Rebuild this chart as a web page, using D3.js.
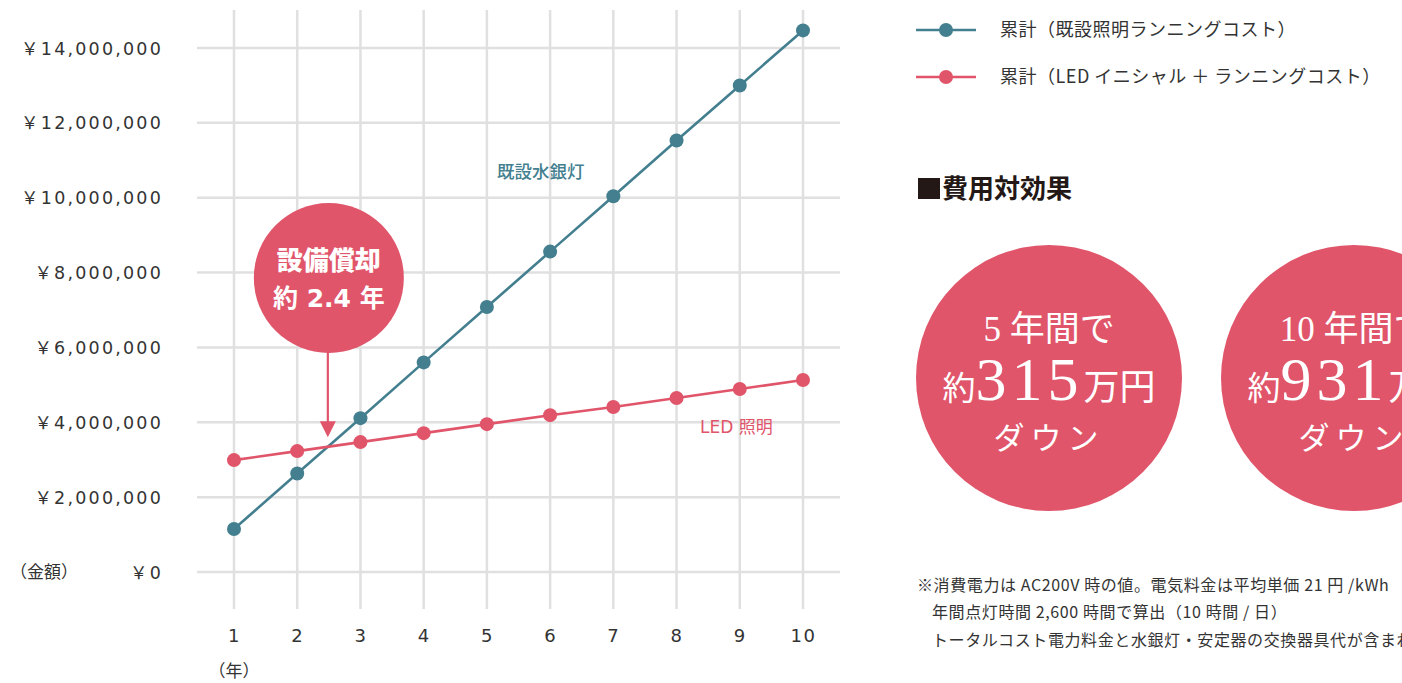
<!DOCTYPE html>
<html><head><meta charset="utf-8">
<script src="https://cdn.jsdelivr.net/npm/d3@7"></script>
<style>body{margin:0;background:#fff;} svg{display:block;}</style>
</head><body>
<svg id="c" width="1402" height="683"></svg>
<script>
const years = [1,2,3,4,5,6,7,8,9,10];
const existingCost = [1150000,2630000,4110000,5600000,7080000,8560000,10040000,11530000,13000000,14470000];
const ledCost = [2990000,3230000,3470000,3710000,3950000,4190000,4410000,4650000,4890000,5130000];
const yTicks = [0,2000000,4000000,6000000,8000000,10000000,12000000,14000000];
const seriesNames = ["累計（既設照明ランニングコスト）","累計（LED イニシャル ＋ ランニングコスト）"];
const payback = {year:2.5, value:3600000, line1:"設備償却", line2:"約 2.4 年"};
const savings = [{period:"5 年間で", amount:"315"},{period:"10 年間で", amount:"931"}];
const notes = ["※消費電力は AC200V 時の値。電気料金は平均単価 21 円 /kWh","年間点灯時間 2,600 時間で算出（10 時間 / 日）","トータルコスト電力料金と水銀灯・安定器の交換器具代が含まれます"];

const TEAL="#437f8f", RED="#e0556a", GRID="#e0e0e0", TXT="#333";
const FONT="'Noto Sans CJK JP','Noto Sans',sans-serif";
const LAT="'DejaVu Sans','Noto Sans CJK JP',sans-serif";
const SERIF="'Liberation Serif','DejaVu Serif','Noto Sans CJK JP',serif";
const svg=d3.select("#c");
const x=d3.scaleLinear().domain([1,10]).range([234,803]);
const y=d3.scaleLinear().domain([0,14000000]).range([572,48]);

// grid
svg.append("g").selectAll("line").data(years).join("line")
  .attr("x1",d=>x(d)).attr("x2",d=>x(d)).attr("y1",10).attr("y2",609)
  .attr("stroke",GRID).attr("stroke-width",2.5);
svg.append("g").selectAll("line").data(yTicks).join("line")
  .attr("x1",197).attr("x2",840).attr("y1",d=>y(d)).attr("y2",d=>y(d))
  .attr("stroke",GRID).attr("stroke-width",2.5);

// axes
const yAxis=svg.append("g").attr("transform","translate(197,0)")
  .call(d3.axisLeft(y).tickValues(yTicks).tickSize(0).tickPadding(34)
  .tickFormat(d=>"￥"+d3.format(",")(d)));
yAxis.select(".domain").remove();
yAxis.selectAll("text").attr("font-family",LAT).attr("font-size",17.5).attr("letter-spacing",2.2)
  .attr("fill",TXT).attr("dy","0.35em");
const xAxis=svg.append("g").attr("transform","translate(0,609)")
  .call(d3.axisBottom(x).tickValues(years).tickSize(0).tickPadding(20).tickFormat(d3.format("d")));
xAxis.select(".domain").remove();
xAxis.selectAll("text").attr("font-family",LAT).attr("font-size",18).attr("letter-spacing",1.5).attr("fill",TXT);
svg.append("text").attr("x",10).attr("y",572).attr("dy","0.35em").attr("font-family",FONT)
  .attr("font-size",17).attr("fill",TXT).text("（金額）");
svg.append("text").attr("x",234).attr("y",671).attr("dy","0.35em").attr("text-anchor","middle").attr("font-family",FONT)
  .attr("font-size",17).attr("fill",TXT).text("（年）");

// series
const line=d3.line().x((d,i)=>x(years[i])).y(d=>y(d));
[[existingCost,TEAL],[ledCost,RED]].forEach(([data,col])=>{
  svg.append("path").datum(data).attr("d",line).attr("fill","none").attr("stroke",col).attr("stroke-width",2.6);
  svg.append("g").selectAll("circle").data(data).join("circle")
    .attr("cx",(d,i)=>x(years[i])).attr("cy",d=>y(d)).attr("r",7).attr("fill",col);
});
svg.append("text").attr("x",497).attr("y",172).attr("dy","0.35em").attr("font-family",FONT)
  .attr("font-size",17.5).attr("font-weight",500).attr("fill",TEAL).text("既設水銀灯");
svg.append("text").attr("x",700).attr("y",427).attr("dy","0.35em").attr("font-family",LAT)
  .attr("font-size",17).attr("fill",RED).text("LED 照明");

// payback annotation
const px=x(payback.year);
svg.append("line").attr("x1",px-1).attr("x2",px-1).attr("y1",340).attr("y2",y(payback.value)-12)
  .attr("stroke",RED).attr("stroke-width",2.2);
const tipY=y(payback.value);
svg.append("path").attr("d",`M${px-9},${tipY-16}L${px+7},${tipY-16}L${px-1},${tipY}Z`).attr("fill",RED);
svg.append("circle").attr("cx",px).attr("cy",278).attr("r",75).attr("fill",RED);
svg.append("text").attr("x",px).attr("y",261).attr("dy","0.35em").attr("text-anchor","middle").attr("font-family",FONT)
  .attr("font-size",26).attr("font-weight",900).attr("fill","#fff").text(payback.line1);
svg.append("text").attr("x",px).attr("y",298).attr("dy","0.35em").attr("text-anchor","middle").attr("font-family",LAT)
  .attr("font-size",25).attr("font-weight",700).attr("fill","#fff").text(payback.line2);

// legend
const leg=svg.append("g").selectAll("g").data(seriesNames).join("g")
  .attr("transform",(d,i)=>`translate(0,${30+i*47})`);
leg.append("line").attr("x1",916).attr("x2",976).attr("stroke",(d,i)=>i?RED:TEAL).attr("stroke-width",2.6);
leg.append("circle").attr("cx",946).attr("r",7).attr("fill",(d,i)=>i?RED:TEAL);
leg.append("text").attr("x",1000).attr("dy","0.35em").attr("font-family",FONT).attr("font-size",18)
  .attr("letter-spacing",0.5).attr("fill",TXT).text(d=>d);

// savings section
svg.append("rect").attr("x",918).attr("y",178).attr("width",22).attr("height",21).attr("fill","#231815");
svg.append("text").attr("x",942).attr("y",189).attr("dy","0.35em").attr("font-family",FONT)
  .attr("font-size",26).attr("font-weight",700).attr("fill","#231815").text("費用対効果");
const sg=svg.append("g").selectAll("g").data(savings).join("g")
  .attr("transform",(d,i)=>`translate(${1049+i*305},378)`);
sg.append("circle").attr("r",133).attr("fill",RED);
sg.append("text").attr("y",-49).attr("dy","0.35em").attr("text-anchor","middle").attr("font-family",SERIF)
  .attr("font-size",35).attr("fill","#fff").text(d=>d.period);
const mid=sg.append("text").attr("y",22).attr("text-anchor","middle").attr("font-family",SERIF).attr("fill","#fff");
mid.append("tspan").attr("font-size",33).text("約");
mid.append("tspan").attr("font-size",62).attr("letter-spacing",5).text(d=>d.amount);
mid.append("tspan").attr("font-size",36).text("万円");
sg.append("text").attr("y",60).attr("dy","0.35em").attr("text-anchor","middle").attr("font-family",SERIF)
  .attr("font-size",31).attr("letter-spacing",6).attr("fill","#fff").text("ダウン");

// notes
svg.append("g").selectAll("text").data(notes).join("text")
  .attr("x",(d,i)=>i?932:917).attr("y",(d,i)=>585+i*27.5).attr("dy","0.35em")
  .attr("font-family",FONT).attr("font-size",16).attr("letter-spacing",0.6).attr("fill",TXT).text(d=>d);
</script>
</body></html>
